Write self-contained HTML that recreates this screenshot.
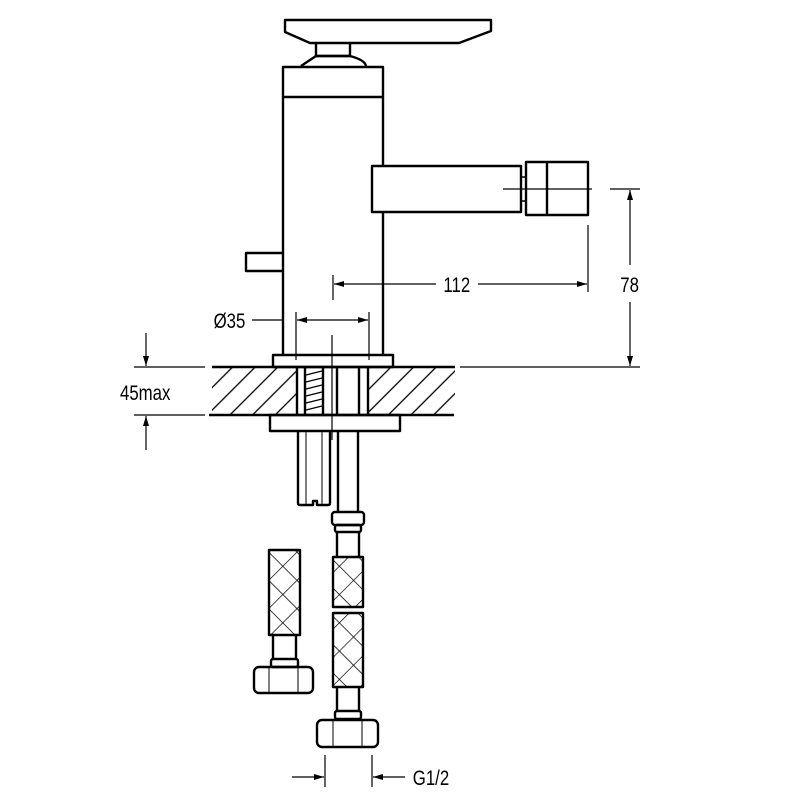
<!DOCTYPE html>
<html><head><style>html,body{margin:0;padding:0;background:#fff}svg{display:block}</style></head><body>
<svg width="800" height="800" viewBox="0 0 800 800" xmlns="http://www.w3.org/2000/svg">
<defs>
<pattern id="h" width="16" height="16" patternUnits="userSpaceOnUse" patternTransform="rotate(45)">
<line x1="0" y1="0" x2="0" y2="16" stroke="#000" stroke-width="1.3" transform="translate(8,0)"/>
</pattern>
<pattern id="x" width="20" height="20" patternUnits="userSpaceOnUse" patternTransform="rotate(45)">
<line x1="0" y1="0" x2="0" y2="20" stroke="#000" stroke-width="1.4"/>
<line x1="0" y1="0" x2="20" y2="0" stroke="#000" stroke-width="1.4"/>
</pattern>
<marker id="a" viewBox="0 0 10 6" refX="10" refY="3" markerWidth="11" markerHeight="6" orient="auto-start-reverse" markerUnits="userSpaceOnUse"><path d="M0,0L10,3L0,6z" fill="#000"/></marker>
</defs>
<g fill="none" stroke="#000" stroke-width="2.4" stroke-linejoin="round">
<path d="M285,20 H491 V31 L459,43 H310 L285,32 Z"/>
<path d="M316,43 V56 H350 V43"/>
<path d="M301,66 Q316,56 316,56 H350 Q365,60 366,66"/>
<path d="M283,355 V67 H383 V355"/>
<line x1="283" y1="97" x2="383" y2="97"/>
<rect x="372" y="166" width="149" height="46" fill="#fff"/>
<rect x="521" y="177" width="5" height="24" stroke-width="1.5"/>
<rect x="526" y="162" width="62" height="53"/>
<line x1="547" y1="162" x2="547" y2="215"/>
<path d="M283,253 H246 V271 H283"/>
<rect x="273" y="355" width="120" height="12"/>
<rect x="212" y="367" width="84" height="48" fill="url(#h)" stroke="none"/>
<rect x="369" y="367" width="86" height="48" fill="url(#h)" stroke="none"/>
<line x1="212" y1="367" x2="455" y2="367"/>
<line x1="209" y1="415" x2="454" y2="415"/>
<line x1="297" y1="367" x2="297" y2="415"/>
<line x1="305" y1="367" x2="305" y2="415"/>
<line x1="323" y1="367" x2="323" y2="415"/>
<line x1="337" y1="367" x2="337" y2="415"/>
<line x1="359" y1="367" x2="359" y2="415"/>
<line x1="368" y1="367" x2="368" y2="415"/>
<g stroke-width="1.2"><line x1="306" y1="375" x2="322" y2="371"/><line x1="306" y1="382" x2="322" y2="378"/><line x1="306" y1="389" x2="322" y2="385"/><line x1="306" y1="396" x2="322" y2="392"/><line x1="306" y1="403" x2="322" y2="399"/><line x1="306" y1="410" x2="322" y2="406"/></g>
<rect x="270" y="415" width="130" height="16"/>
<path d="M298,431 V503 Q298,505 300,505 H313 V501 H317 V505 H328 Q330,505 330,503 V431"/>
<line x1="306" y1="431" x2="306" y2="505" stroke-width="1"/>
<line x1="322" y1="431" x2="322" y2="505" stroke-width="1"/>
<line x1="338" y1="431" x2="338" y2="512"/>
<line x1="358" y1="431" x2="358" y2="512"/>
<rect x="332" y="512" width="32" height="13" rx="3"/>
<rect x="335" y="525" width="26" height="7" rx="2"/>
<path d="M337,532 V556 M359,532 V556"/>
<rect x="333" y="557" width="30" height="50" fill="url(#x)"/>
<rect x="333" y="613" width="30" height="74" fill="url(#x)"/>
<path d="M337,687 V711 M359,687 V711"/>
<rect x="335" y="711" width="26" height="8" rx="2"/>
<rect x="317" y="720" width="61" height="27" rx="5"/>
<path d="M333,720 V747 M362,720 V747" stroke-width="1"/>
<rect x="269" y="550" width="31" height="85" fill="url(#x)"/>
<path d="M273,635 V659 M296,635 V659"/>
<rect x="271" y="659" width="27" height="8" rx="2"/>
<rect x="254" y="667" width="59" height="26" rx="5"/>
<path d="M269,667 V693 M298,667 V693" stroke-width="1"/>
</g>
<g stroke="#000" stroke-width="1.2" fill="none">
<line x1="503" y1="189" x2="592" y2="189"/>
<line x1="610" y1="189" x2="640" y2="189"/>
<line x1="460" y1="367" x2="640" y2="367"/>
<line x1="630" y1="190" x2="630" y2="265" marker-start="url(#a)"/>
<line x1="630" y1="302" x2="630" y2="366" marker-end="url(#a)"/>
<line x1="333" y1="275" x2="333" y2="300"/>
<line x1="588" y1="225" x2="588" y2="292"/>
<line x1="334" y1="284" x2="436" y2="284" marker-start="url(#a)"/>
<line x1="478" y1="284" x2="587" y2="284" marker-end="url(#a)"/>
<line x1="252" y1="320" x2="283" y2="320"/>
<line x1="297" y1="320" x2="368" y2="320" marker-start="url(#a)" marker-end="url(#a)"/>
<line x1="296" y1="312" x2="296" y2="360"/>
<line x1="369" y1="312" x2="369" y2="360"/>
<line x1="332" y1="335" x2="332" y2="440"/>
<line x1="134" y1="367" x2="205" y2="367"/>
<line x1="134" y1="415" x2="205" y2="415"/>
<line x1="146" y1="333" x2="146" y2="366" marker-end="url(#a)"/>
<line x1="146" y1="450" x2="146" y2="416" marker-end="url(#a)"/>
<line x1="325" y1="755" x2="325" y2="787"/>
<line x1="372" y1="755" x2="372" y2="787"/>
<line x1="292" y1="777" x2="324" y2="777" marker-end="url(#a)"/>
<line x1="405" y1="777" x2="373" y2="777" marker-end="url(#a)"/>
</g>
<g font-family="Liberation Sans, sans-serif" font-size="21" fill="#000" transform="scale(0.8,1)">
<text x="571" y="292" text-anchor="middle">112</text>
<text x="787" y="292" text-anchor="middle">78</text>
<text x="267" y="328">Ø35</text>
<text x="150" y="400">45max</text>
<text x="516" y="785">G1/2</text>
</g>
</svg>
</body></html>
